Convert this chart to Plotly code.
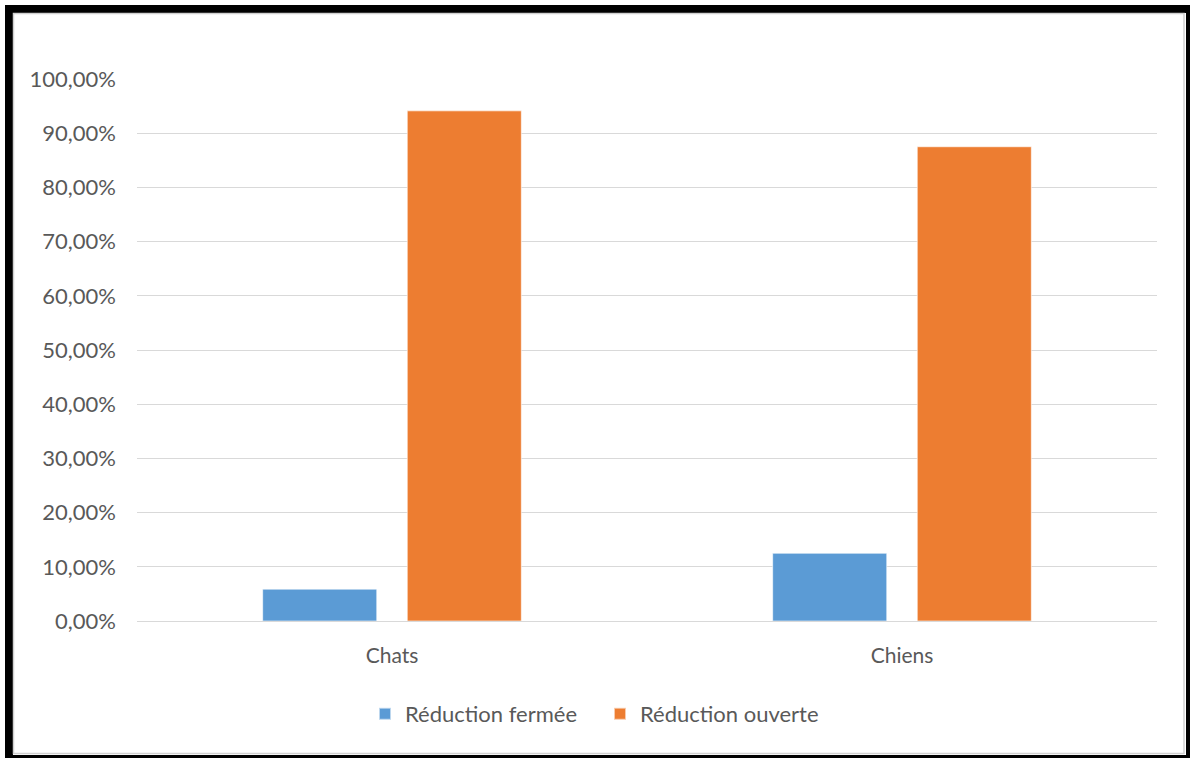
import plotly.graph_objects as go

categories = ["Chats", "Chiens"]
series_names = ["Réduction fermée", "Réduction ouverte"]
reduction_fermee = [5.88, 12.5]
reduction_ouverte = [94.12, 87.5]
tick_vals = [0, 10, 20, 30, 40, 50, 60, 70, 80, 90, 100]
tick_text = ["0,00%", "10,00%", "20,00%", "30,00%", "40,00%", "50,00%",
             "60,00%", "70,00%", "80,00%", "90,00%", "100,00%"]

W, H = 1190, 758
L, R, T, B = 137, 33, 79, 137
PW, PH = W - L - R, H - T - B

def px(x):
    return (x - L) / PW

def py(y):
    return (H - B - y) / PH

font_color = "#595959"
fam = "Lato, 'Open Sans', sans-serif"

fig = go.Figure()
fig.add_trace(go.Bar(x=categories, y=reduction_fermee, name=series_names[0],
                     marker=dict(color="#5B9BD5", line=dict(color="rgba(255,255,255,0.6)", width=1))))
fig.add_trace(go.Bar(x=categories, y=reduction_ouverte, name=series_names[1],
                     marker=dict(color="#ED7D31", line=dict(color="rgba(255,255,255,0.6)", width=1))))

fig.update_layout(
    width=W, height=H,
    margin=dict(l=L, r=R, t=T, b=B, pad=0),
    paper_bgcolor="white", plot_bgcolor="white",
    barmode="group", bargap=0.433, bargroupgap=0.211,
    font=dict(family=fam, size=21, color=font_color),
    showlegend=True,
    legend=dict(orientation="h", x=px(600), xanchor="center", y=py(714), yanchor="middle",
                font=dict(size=22, color=font_color), itemsizing="constant",
                entrywidth=190, entrywidthmode="pixels",
                bgcolor="rgba(0,0,0,0)"),
    xaxis=dict(showgrid=False, showline=True, linecolor="#d9d9d9", linewidth=1,
               ticks="", ticklabelstandoff=16, tickfont=dict(size=21, color=font_color),
               fixedrange=True),
    yaxis=dict(range=[0, 100], tickvals=tick_vals, ticktext=tick_text,
               showgrid=True, gridcolor="#d9d9d9", gridwidth=1,
               zeroline=False, showline=False, ticks="", ticklabelstandoff=20,
               tickfont=dict(size=22, color=font_color), fixedrange=True),
    shapes=[
        dict(type="rect", xref="paper", yref="paper",
             x0=px(9), x1=px(1190), y0=py(9), y1=py(759),
             line=dict(color="black", width=8), fillcolor="rgba(0,0,0,0)", layer="above"),
        dict(type="rect", xref="paper", yref="paper",
             x0=px(13.5), x1=px(1184), y0=py(13.5), y1=py(753.5),
             line=dict(color="#d0d0d0", width=1.5), fillcolor="rgba(0,0,0,0)", layer="above"),
    ],
)

fig.write_html("out.html")
